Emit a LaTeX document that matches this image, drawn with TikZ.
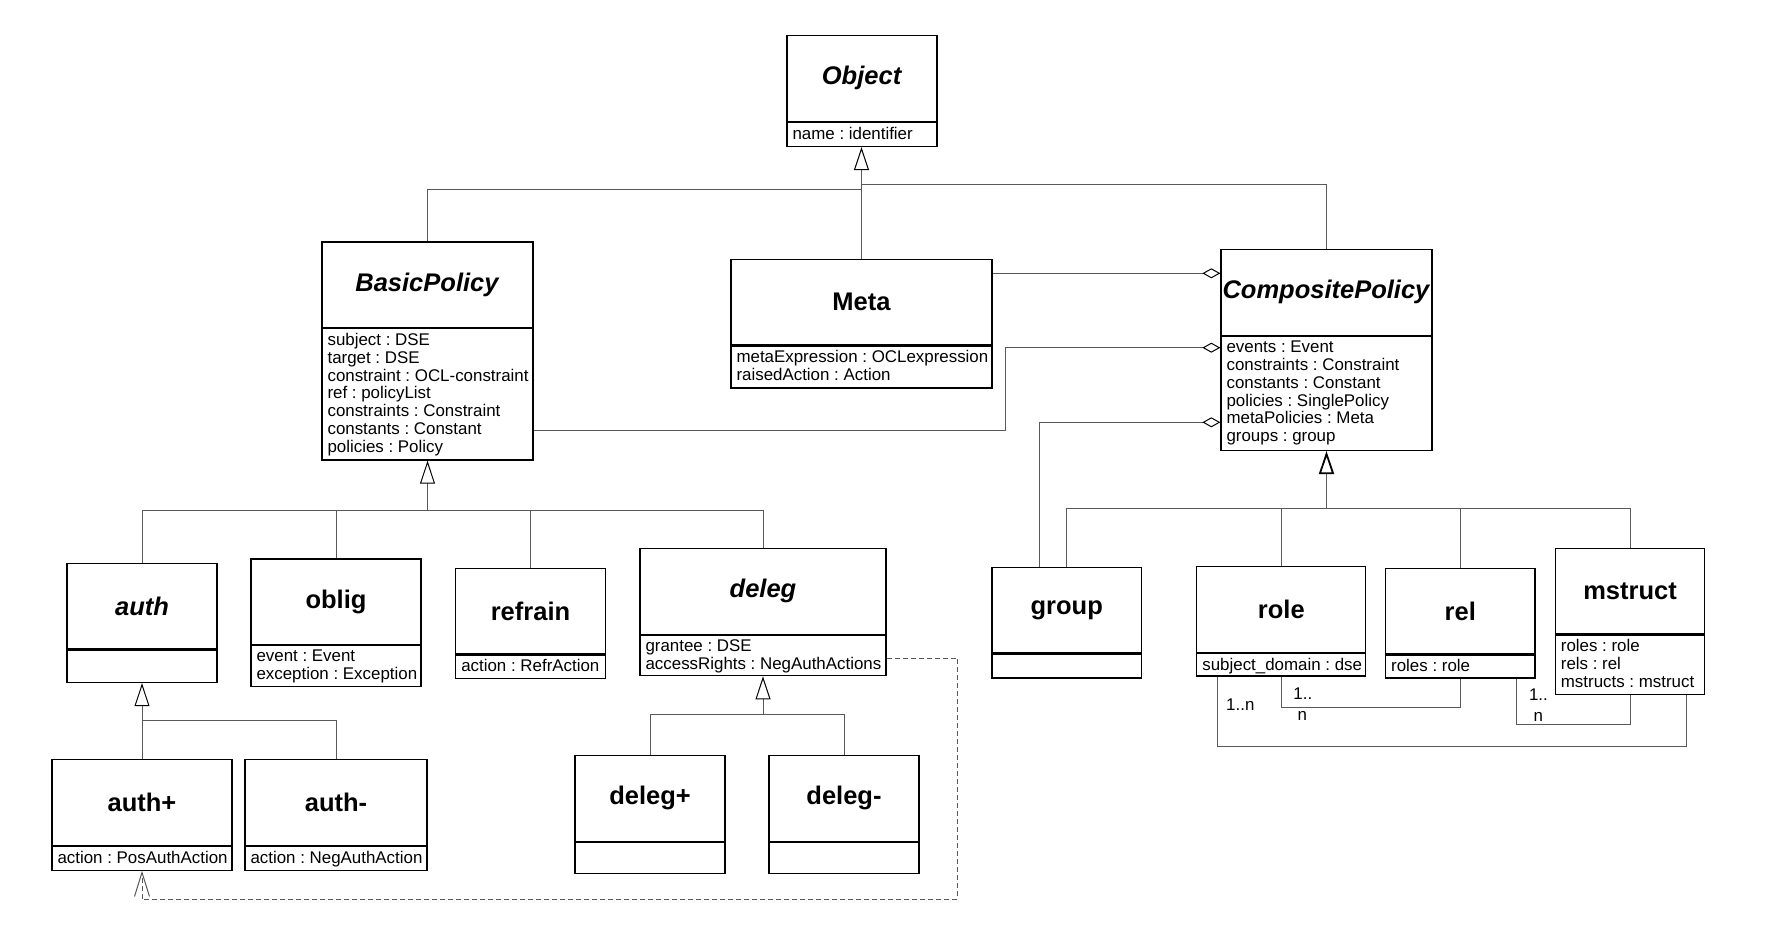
\documentclass[tikz,border=0pt]{standalone}
\usepackage{fontspec}
\setmainfont{Liberation Sans}
\usetikzlibrary{arrows.meta}
\frenchspacing

% one UML class: name, centre x, top y, width, height of attribute part, title, attributes
\newcommand{\umlclass}[7]{%
  \node[classtitle, minimum width=#4, anchor=north] (#1) at (#2,#3) {#6};
  \node[classattr, minimum width=#4, minimum height=#5, anchor=north] (#1-a) at (#1.south) {};
  \node[attrtext, anchor=north west] (#1-t) at (#1-a.north west) {#7};
}

\tikzset{
  classtitle/.style={draw, line width=1.3pt, minimum height=85.5pt, inner sep=0pt,
    font=\fontsize{25.5}{30}\selectfont\bfseries},
  classattr/.style={draw, line width=1.3pt, inner sep=0pt},
  attrtext/.style={inner xsep=6pt, inner ysep=5pt, align=left,
    font=\fontsize{16.9}{17.8}\selectfont},
  conn/.style={draw=black!65, line width=1pt},
  gen/.style={conn, -{Triangle[length=23pt, width=15pt, color=black, fill=white]}},
  agg/.style={conn, -{Diamond[length=18pt, width=10pt, color=black, fill=white]}},
  dep/.style={conn, dash pattern=on 5pt off 3pt, -{Straight Barb[length=24pt, width=15pt]}},
  mult/.style={inner sep=0pt, font=\fontsize{16.9}{18}\selectfont},
}

\begin{document}
\begin{tikzpicture}[x=1pt, y=-1pt]
        \useasboundingbox[fill=white] (0,0) rectangle (1778,934);

        % classes
        \umlclass{object}{862}{35}{150}{24}{\textit{Object}}{name : identifier}
        \umlclass{basic}{427.5}{241.3}{211}{131.3}{\textit{BasicPolicy}}{subject : DSE\\target : DSE\\constraint : OCL-constraint\\ref : policyList\\constraints : Constraint\\constants : Constant\\policies : Policy}
        \umlclass{meta}{861.5}{258.7}{261}{41.7}{Meta}{metaExpression : OCLexpression\\raisedAction : Action}
        \umlclass{composite}{1326.5}{249}{211}{114}{\textit{CompositePolicy}}{events : Event\\constraints : Constraint\\constants : Constant\\policies : SinglePolicy\\metaPolicies : Meta\\groups : group}

        \umlclass{auth}{142}{562.7}{150}{32.4}{\textit{auth}}{}
        \umlclass{oblig}{336}{558.3}{170}{41}{oblig}{event : Event\\exception : Exception}
        \umlclass{refrain}{530.5}{567.7}{149.5}{23.3}{refrain}{action : RefrAction}
        \umlclass{deleg}{763}{548}{246}{40.3}{\textit{deleg}}{grantee : DSE\\accessRights : NegAuthActions}

        \umlclass{authplus}{142}{759}{180}{23.7}{auth+}{action : PosAuthAction}
        \umlclass{authminus}{336}{759}{182}{23.7}{auth-}{action : NegAuthAction}
        \umlclass{delegplus}{650}{755}{150}{31.3}{deleg+}{}
        \umlclass{delegminus}{844}{755}{150}{31.3}{deleg-}{}

        \umlclass{group}{1066.7}{566.7}{149.5}{23.7}{group}{}
        \umlclass{role}{1281.3}{566}{169}{22.6}{role}{subject\_domain : dse}
        \umlclass{rel}{1460.3}{567.7}{149.3}{22.7}{rel}{roles : role}
        \umlclass{mstruct}{1630}{547.7}{149.3}{59.4}{mstruct}{roles : role\\rels : rel\\mstructs : mstruct}

        % Object generalisation
        \coordinate (objL) at (862,189.3);
        \coordinate (objR) at (862,184.7);
        \draw[gen] (meta.north) -- (meta.north |- object-a.south);
        \draw[conn] (basic.north) |- (objL);
        \draw[conn] (composite.north) |- (objR);

        % BasicPolicy generalisation
        \coordinate (bpj) at (427.5,510);
        \draw[gen] (bpj) -- (basic-a.south);
        \draw[conn] (auth.north) |- (bpj);
        \draw[conn] (deleg.north) |- (bpj);
        \draw[conn] (oblig.north) -- (oblig.north |- bpj);
        \draw[conn] (refrain.north) -- (refrain.north |- bpj);

        % auth generalisation
        \coordinate (authj) at (142,720);
        \draw[gen] (authplus.north) -- (auth-a.south);
        \draw[conn] (authminus.north) |- (authj);

        % deleg generalisation
        \coordinate (dgj) at (763,714);
        \draw[gen] (dgj) -- (deleg-a.south);
        \draw[conn] (delegplus.north) |- (dgj);
        \draw[conn] (delegminus.north) |- (dgj);

        % CompositePolicy generalisation
        \coordinate (cpj) at (1326.5,508.3);
        \draw[gen, line width=1.8pt] (cpj) -- (composite-a.south);
        \draw[conn] (group.north) |- (cpj);
        \draw[conn] (mstruct.north) |- (cpj);
        \draw[conn] (role.north) -- (role.north |- cpj);
        \draw[conn] (rel.north) -- (rel.north |- cpj);

        % aggregations
        \draw[agg] (meta.east |- 0,273.3) -- (composite.west |- 0,273.3);
        \draw[agg] (basic-a.east |- 0,430.7) -| (1005,347.7) -- (composite-a.west |- 0,347.7);
        \draw[agg] (group.north -| 1039,0) |- (composite-a.west |- 0,422.3);

        % dependency
        \draw[dep] (deleg-a.east |- 0,658) -| (957.3,899.3) -| (authplus-a.south);

        % associations
        \draw[conn] (role-a.south) -- (role-a.south |- 0,707.7) -| (rel-a.south);
        \draw[conn] (rel-a.south -| 1516.6,0) -- (1516.6,724) -| (mstruct-a.south);
        \draw[conn] (role-a.south -| 1217.5,0) -- (1217.5,746.7) -| (mstruct-a.south -| 1686.3,0);
        \node[mult] (m1) at (1302.8,694) {1..};
        \node[mult] (n1) at (1302.3,716) {n};
        \node[mult] (m2) at (1538.4,695) {1..};
        \node[mult] (n2) at (1538.4,716.7) {n};
        \node[mult] (m3) at (1240.3,705) {1..n};
\end{tikzpicture}
\end{document}
